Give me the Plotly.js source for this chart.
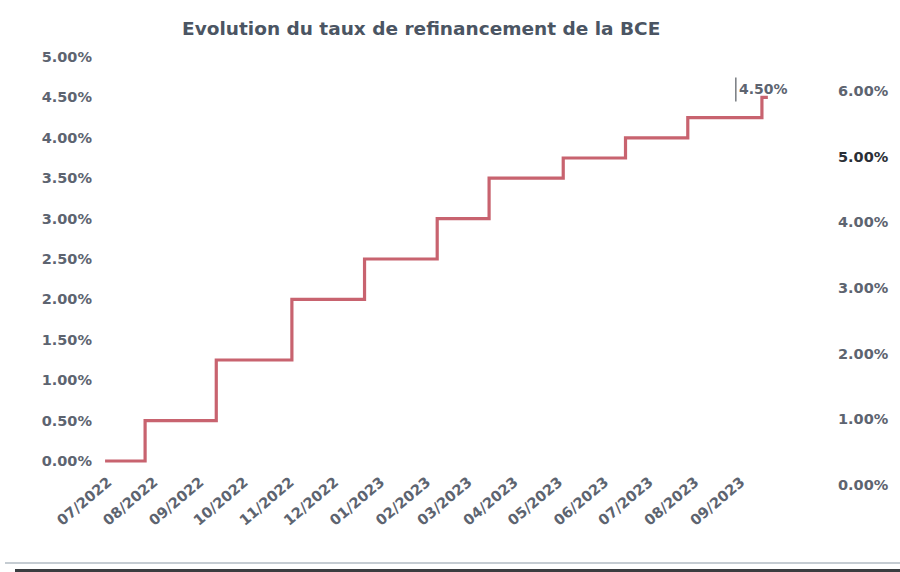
<!DOCTYPE html>
<html>
<head>
<meta charset="utf-8">
<script src="https://cdn.plot.ly/plotly-3.0.1.min.js"></script>
<style>html,body{margin:0;padding:0;background:#fff;}#chart{width:900px;height:572px;}</style>
</head>
<body>
<div id="chart"></div>
<script>
// Data (ECB main refinancing rate, %)
const stepDates = ['2022-06-29','2022-07-26','2022-09-12','2022-11-02','2022-12-21','2023-02-08','2023-03-15','2023-05-04','2023-06-15','2023-07-27','2023-09-15','2023-09-19'];
const rates = [0, 0.5, 1.25, 2.0, 2.5, 3.0, 3.5, 3.75, 4.0, 4.25, 4.5, 4.5];
const monthTicks = ['2022-07-01','2022-08-01','2022-09-01','2022-10-01','2022-11-01','2022-12-01','2023-01-01','2023-02-01','2023-03-01','2023-04-01','2023-05-01','2023-06-01','2023-07-01','2023-08-01','2023-09-01'];
const monthLabels = ['07/2022','08/2022','09/2022','10/2022','11/2022','12/2022','01/2023','02/2023','03/2023','04/2023','05/2023','06/2023','07/2023','08/2023','09/2023'];
const leftTicks = [0,0.5,1,1.5,2,2.5,3,3.5,4,4.5,5];
const leftLabels = ['0.00%','0.50%','1.00%','1.50%','2.00%','2.50%','3.00%','3.50%','4.00%','4.50%','5.00%'];
const rightTicks = [0,1,2,3,4,5,6];
const rightLabels = ['0.00%','1.00%','2.00%','3.00%','4.00%','<span style="color:#2b2f36">5.00%</span>','6.00%'];
const lastLabel = '4.50%';

const tickFont = {family:'DejaVu Sans', size:14.5, color:'#5d6470', weight:'bold'};
const lastIdx = stepDates.length - 1;

const trace = {
  x: stepDates, y: rates, type:'scatter', mode:'lines',
  line:{shape:'hv', color:'#c8636f', width:3.2},
  hoverinfo:'skip', showlegend:false
};

const layout = {
  width:900, height:572,
  margin:{l:100, r:70, t:57, b:87},
  paper_bgcolor:'#ffffff', plot_bgcolor:'#ffffff',
  title:{text:'<b>Evolution du taux de refinancement de la BCE</b>', x:0.468, xanchor:'center', y:0.95, yanchor:'middle',
         font:{family:'DejaVu Sans', size:18.5, color:'#4b5563'}},
  xaxis:{type:'date', range:['2022-06-25 14:00','2023-10-30 22:00'],
         tickvals:monthTicks, ticktext:monthLabels, tickangle:-40,
         tickfont:tickFont, showgrid:false, zeroline:false, showline:false, ticks:'',
         anchor:'free', position:0.035},
  yaxis:{range:[-0.297,5], tickvals:leftTicks, ticktext:leftLabels, tickfont:tickFont,
         showgrid:false, zeroline:false, showline:false, ticks:'', ticklabelstandoff:7},
  yaxis2:{range:[0,6.518], tickvals:rightTicks, ticktext:rightLabels, tickfont:tickFont,
          overlaying:'y', side:'right', showgrid:false, zeroline:false, showline:false, ticks:'', ticklabelstandoff:7},
  annotations:[{x:stepDates[lastIdx], y:rates[lastIdx], xref:'x', yref:'y',
                text:'<b>'+lastLabel+'</b>', showarrow:false, xanchor:'left', yanchor:'middle',
                xshift:-31, yshift:8, font:{family:'DejaVu Sans', size:14, color:'#5d6470'}}],
  shapes:[
    {type:'line', xref:'x', yref:'y', xsizemode:'pixel', ysizemode:'pixel',
     xanchor:stepDates[lastIdx], yanchor:rates[lastIdx], x0:-32, x1:-32, y0:-4, y1:20,
     line:{color:'#555a60', width:1.2}},
    {type:'line', xref:'paper', yref:'paper', x0:-95/730, x1:1+70/730, y0:(485-563)/428, y1:(485-563)/428, line:{color:'#c5ccd2', width:2}},
    {type:'line', xref:'paper', yref:'paper', x0:-85/730, x1:1+70/730, y0:(485-570.5)/428, y1:(485-570.5)/428, line:{color:'#3a3d40', width:3}}
  ]
};

Plotly.newPlot('chart', [trace, {x:[], y:[], yaxis:'y2', type:'scatter', showlegend:false, hoverinfo:'skip'}], layout, {staticPlot:true, displayModeBar:false});
</script>
</body>
</html>
